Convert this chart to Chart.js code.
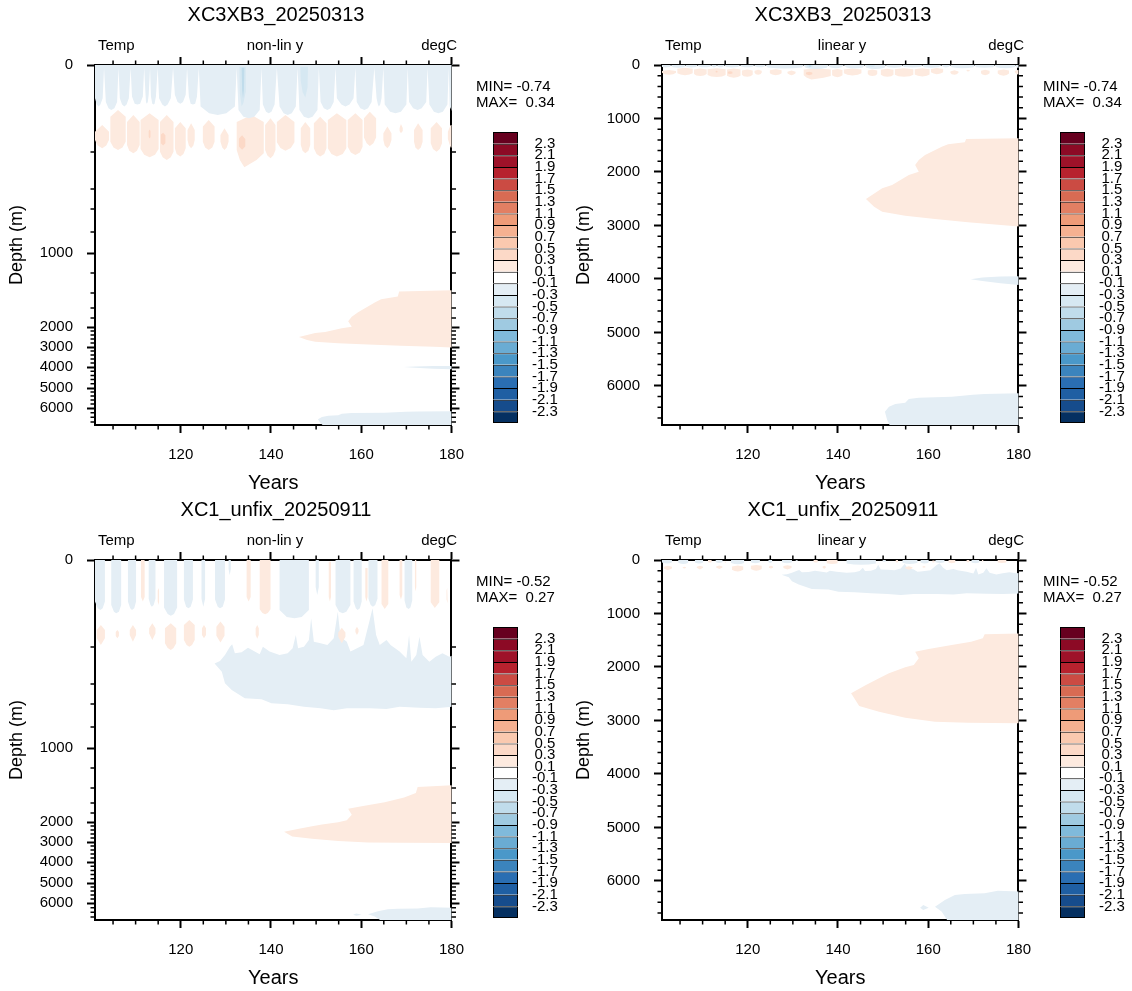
<!DOCTYPE html>
<html><head><meta charset="utf-8">
<script src="https://cdn.jsdelivr.net/npm/chart.js@4.4.1/dist/chart.umd.min.js"></script>
<style>
html,body{margin:0;padding:0;background:#fff;}
body{width:1132px;height:991px;position:relative;overflow:hidden;font-family:"Liberation Sans",Arial,sans-serif;}
canvas{position:absolute;}
.t{position:absolute;white-space:pre;line-height:1;color:#000;}
</style></head><body>
<script>
// ---------------- data ----------------
const YEAR_MIN = 101, YEAR_MAX = 180;
const yearTicks = [120, 140, 160, 180];
const yearMinor = [105, 110, 115, 125, 130, 135, 145, 150, 155, 165, 170, 175];
const DEPTH_MAX = 6731;
const depthTicks = [0, 1000, 2000, 3000, 4000, 5000, 6000];
const depthMinor = [200,400,600,800,1200,1400,1600,1800,2200,2400,2600,2800,3200,3400,3600,3800,4200,4400,4600,4800,5200,5400,5600,5800,6200,6400,6600];
// model level grid used by the non-linear (level index) depth axis
const levelDepth = [0, 50, 100, 150, 200, 300, 400, 600, 800, 1000, 1200, 1400, 1600, 1800, 2000, 3000, 4000, 5000, 6000, 6731];
const levelIndex = [0, 4.5, 6.3, 7.6, 8.7, 10.8, 12.4, 14.4, 16.7, 18.8, 20.8, 22.8, 24.3, 25.3, 26.2, 28.2, 30.2, 32.3, 34.3, 36];

const cbLabels = ['-2.3','-2.1','-1.9','-1.7','-1.5','-1.3','-1.1','-0.9','-0.7','-0.5','-0.3','-0.1','0.1','0.3','0.5','0.7','0.9','1.1','1.3','1.5','1.7','1.9','2.1','2.3'];
const cbColors = ['#053061','#164c8c','#1f5fa3','#2a6eb2','#3b84bd','#4a98c9','#6aacd3','#80badb','#9fcae1','#c0dceb','#d6e8f2','#e4eef5','#ffffff','#fdeadf','#fcd9c7','#fac9af','#f5b191','#ee9b78','#e27f63','#d86b53','#cb4b43','#b7222e','#9e1229','#8c0a25','#67001f'];

const titles = {exp1: 'XC3XB3_20250313', exp2: 'XC1_unfix_20250911'};
const minText = {exp1: 'MIN= -0.74', exp2: 'MIN= -0.52'};
const maxText = {exp1: 'MAX=  0.34', exp2: 'MAX=  0.27'};

// ---- experiment 1 contour regions: [year, depth(m)] ----
const exp1BlueTop = [[101,0],[101,37],[101.4,44],[101.8,46],[102.2,44],[102.7,37],[103.0,3],
[103.4,41],[104.0,48],[104.6,50],[105.3,48],[105.9,41],[106.2,3],
[106.5,37],[107.0,44],[107.5,46],[108.0,44],[108.5,37],[108.9,3],
[109.2,35],[109.8,43],[110.4,44],[111.0,43],[111.6,35],[111.9,3],
[112.2,33],[112.3,41],[112.5,43],[112.7,41],[112.9,33],[113.2,3],
[113.4,35],[113.7,43],[114.0,44],[114.2,43],[114.5,35],[114.9,3],
[115.2,37],[115.9,44],[116.5,46],[117.1,44],[117.8,37],[118.3,3],
[118.7,33],[119.3,41],[119.9,43],[120.5,41],[121.1,33],[121.4,3],
[121.8,35],[122.2,43],[122.7,44],[123.2,43],[123.6,35],[124.0,3],
[124.4,46],[126.3,59],[128.2,64],[130.1,59],[132.0,46],[132.4,3],
[132.8,50],[133.9,69],[135.1,73],[136.3,69],[137.5,50],[137.9,3],
[138.2,44],[138.9,55],[139.5,59],[140.1,55],[140.8,44],[141.3,3],
[141.9,46],[142.8,59],[143.7,64],[144.6,59],[145.5,46],[145.9,3],
[146.3,50],[147.3,69],[148.3,73],[149.2,69],[150.3,50],[150.6,3],
[151.0,41],[151.7,48],[152.5,50],[153.2,48],[153.9,41],[154.3,3],
[154.6,37],[155.6,44],[156.5,46],[157.4,44],[158.3,37],[158.7,3],
[159.0,41],[159.8,48],[160.7,50],[161.5,48],[162.3,41],[162.9,3],
[163.4,37],[163.7,44],[163.9,46],[164.2,44],[164.5,37],[164.9,3],
[165.2,44],[166.4,55],[167.6,59],[168.8,55],[170.0,44],[170.3,3],
[170.6,41],[171.5,48],[172.5,50],[173.4,48],[174.4,41],[174.7,3],
[175.1,44],[176.1,55],[177.1,59],[178.1,55],[179.1,44],[179.4,3],
[179.6,46],[180.5,64],[180.5,0]];
const exp1OrangeBlobs = [
[[101.0,114],[102.6,92],[104.1,114],[104.1,146],[103.5,171],[102.6,183],[101.6,171],[101.0,146]],
[[104.4,69],[106.1,50],[107.8,69],[107.8,153],[107.1,179],[106.1,191],[105.1,179],[104.4,153]],
[[108.1,83],[109.5,64],[110.9,83],[110.9,168],[110.3,194],[109.5,206],[108.6,194],[108.1,168]],
[[111.1,78],[113.1,59],[115.1,78],[115.1,186],[114.3,213],[113.1,225],[111.9,213],[111.1,186]],
[[115.4,83],[116.9,64],[118.4,83],[118.4,199],[117.8,225],[116.9,238],[116.0,225],[115.4,199]],
[[118.7,101],[119.9,83],[121.1,101],[121.1,183],[120.6,209],[119.9,222],[119.1,209],[118.7,183]],
[[121.5,108],[122.3,87],[123.1,108],[123.1,146],[122.8,171],[122.3,183],[121.8,171],[121.5,146]],
[[124.9,96],[126.2,78],[127.5,96],[127.5,153],[127.0,179],[126.2,191],[125.4,179],[124.9,153]],
[[128.8,127],[129.7,101],[130.6,127],[130.6,153],[130.2,179],[129.7,191],[129.2,179],[128.8,153]],
[[132.4,83],[135.7,64],[138.4,83],[138.4,206],[136.8,238],[135.3,257],[134.1,273],[133.1,238],[132.4,191]],
[[138.7,92],[139.9,73],[141.0,92],[141.0,191],[140.5,217],[139.9,230],[139.2,217],[138.7,191]],
[[141.3,83],[143.2,64],[145.2,83],[145.2,156],[144.4,182],[143.2,194],[142.1,182],[141.3,156]],
[[146.6,101],[147.6,83],[148.7,101],[148.7,168],[148.3,194],[147.6,206],[147.0,194],[146.6,168]],
[[149.5,87],[150.9,69],[152.3,87],[152.3,183],[151.8,209],[150.9,222],[150.1,209],[149.5,183]],
[[152.6,78],[154.6,59],[156.7,78],[156.7,183],[155.9,209],[154.6,222],[153.4,209],[152.6,183]],
[[157.0,78],[158.7,59],[160.3,78],[160.3,176],[159.7,202],[158.7,214],[157.7,202],[157.0,176]],
[[160.6,73],[161.9,55],[163.3,73],[163.3,137],[162.7,160],[161.9,173],[161.2,160],[160.6,137]],
[[164.9,120],[165.8,96],[166.7,120],[166.7,146],[166.3,171],[165.8,183],[165.2,171],[164.9,146]],
[[168.5,100],[168.8,89],[169.2,100],[169.2,112],[168.8,120],[168.5,112]],
[[171.7,108],[172.6,87],[173.6,108],[173.6,153],[173.2,179],[172.6,191],[172.0,179],[171.7,153]],
[[175.4,101],[176.7,83],[177.9,101],[177.9,160],[177.4,186],[176.7,199],[175.9,186],[175.4,160]],
[[179.2,114],[179.8,92],[180.5,92],[180.5,179],[179.8,179],[179.2,142]]
];
const exp1OrangeCores = [
[[115.6,125],[116.1,118],[116.6,128],[116.6,160],[116.1,170],[115.6,160]],
[[132.9,140],[133.6,128],[134.3,142],[134.3,175],[133.6,190],[132.9,175]],
[[112.9,112],[113.1,106],[113.3,112],[113.3,135],[113.1,140],[112.9,135]]
];
const exp1BlueCores = [
[[133.0,2],[134.4,2],[134.4,30],[133.9,42],[133.5,46],[133.1,32]],
[[146.5,2],[148.2,2],[148.1,25],[147.6,36],[147.0,30],[146.6,18]]
];
const exp1BlueCoresDeep = [
[[133.5,3],[134.1,3],[134.0,28],[133.8,37],[133.6,28]]
];
const exp1Tongue = [[180.5,1371],[168.4,1384],[168.1,1446],[164.4,1483],[163.0,1527],[159.3,1683],[157.9,1776],[157.1,1870],[157.9,1994],[155.7,2057],[152.0,2244],[149.8,2306],[146.2,2505],[148.0,2649],[149.8,2742],[154.9,2817],[161.5,2879],[168.8,2941],[176.1,2992],[180.5,3023]];
const exp1Blue4000 = [[169.4,4005],[172,3975],[176,3955],[180.5,3950],[180.5,4115],[176,4080],[172,4040]];
const exp1BlueBottom = [[180.5,6139],[172.5,6151],[169.9,6164],[165.2,6202],[157.9,6220],[155.7,6245],[154.9,6314],[152.7,6338],[151.3,6388],[150.4,6482],[150.9,6637],[151.6,6760],[180.5,6760]];

// ---- experiment 2 contour regions ----
const exp2BlueCols = [
[[101,0],[103.2,0],[103.2,46],[102.7,59],[102.2,64],[101.6,59],[101,46]],
[[104.6,0],[106.8,0],[106.8,50],[106.3,69],[105.7,73],[105.2,69],[104.6,50]],
[[108.3,0],[110.1,0],[110.1,46],[109.7,59],[109.2,64],[108.8,59],[108.3,46]],
[[112.9,0],[114.4,0],[114.4,43],[114.0,50],[113.6,55],[113.3,50],[112.9,43]],
[[116.3,0],[119.2,0],[119.2,57],[118.5,75],[117.8,80],[117.1,75],[116.3,57]],
[[120.7,0],[122.7,0],[122.7,44],[122.2,55],[121.7,59],[121.2,55],[120.7,44]],
[[124.6,0],[125.4,0],[125.4,43],[125.0,55],[124.6,43]],
[[127.6,0],[129.8,0],[129.8,44],[129.3,55],[128.7,59],[128.2,55],[127.6,44]],
[[130.6,0],[131.1,0],[131.1,10],[130.85,17],[130.6,10]],
[[141.9,0],[148.4,0],[148.4,64],[146.8,83],[145.2,87],[143.5,83],[141.9,64]],
[[149.9,0],[150.6,0],[150.6,30],[150.25,39],[149.9,30]],
[[154.3,0],[157.6,0],[157.6,50],[156.7,69],[155.9,73],[155.1,69],[154.3,50]],
[[158.3,0],[160.1,0],[160.1,46],[159.7,59],[159.2,64],[158.8,59],[158.3,46]],
[[161.6,0],[163.6,0],[163.6,43],[163.1,50],[162.6,55],[162.1,50],[161.6,43]],
[[169.6,0],[171.3,0],[171.3,45],[170.9,57],[170.5,61],[170.0,57],[169.6,45]]
];
const exp2OrangeStreaks = [
[[111.2,0],[112.0,0],[112.0,41],[111.6,46],[111.2,41]],
[[114.9,34],[115.05,31],[115.2,34],[115.2,46],[115.05,50],[114.9,46]],
[[134.6,0],[135.5,0],[135.5,41],[135.05,46],[134.6,41]],
[[137.5,0],[139.9,0],[139.9,62],[139.3,72],[138.7,76],[138.1,72],[137.5,62]],
[[152.8,2],[153.3,2],[153.3,41],[153.05,46],[152.8,41]],
[[160.9,9],[161.4,9],[161.4,41],[161.15,46],[160.9,41]],
[[164.5,0],[166.0,0],[166.0,49],[165.2,61],[164.5,49]],
[[168.5,0],[169.1,0],[169.1,39],[168.8,44],[168.5,39]],
[[171.9,0],[172.2,0],[172.2,30],[172.05,35],[171.9,30]],
[[175.4,0],[177.3,0],[177.3,47],[176.3,58],[175.4,47]],
[[178.9,34],[179.05,31],[179.2,34],[179.2,44],[179.05,48],[178.9,44]]
];
const exp2OrangeBlobs = [
[[101.4,127],[102.3,108],[103.2,127],[103.2,160],[102.3,191],[101.4,160]],
[[105.6,135],[105.95,127],[106.3,135],[106.3,150],[105.95,160],[105.6,150]],
[[108.7,127],[109.4,108],[110.1,127],[110.1,146],[109.4,176],[108.7,146]],
[[113.0,120],[113.7,101],[114.4,120],[114.4,140],[113.7,168],[113.0,140]],
[[116.5,120],[117.8,101],[119.0,120],[119.0,183],[118.4,205],[117.8,214],[117.1,205],[116.5,183]],
[[120.7,108],[121.9,92],[123.1,108],[123.1,168],[122.5,191],[121.9,199],[121.3,191],[120.7,168]],
[[124.7,120],[125.15,108],[125.6,120],[125.6,146],[125.15,160],[124.7,146]],
[[127.9,114],[128.8,96],[129.7,114],[129.7,149],[128.8,179],[127.9,149]],
[[136.6,120],[136.95,108],[137.3,120],[137.3,146],[136.95,163],[136.6,146]],
[[154.9,137],[155.7,118],[156.5,137],[156.5,153],[155.7,183],[154.9,153]],
[[158.7,125],[159.05,114],[159.4,125],[159.4,135],[159.05,146],[158.7,135]]
];
const exp2BlueBand = [[127.5,278],[128.7,267],[129.8,238],[130.9,199],[131.4,188],[132.0,230],[133.5,225],[134.9,203],[136.4,222],[137.5,235],[138.2,199],[139.7,222],[141.9,238],[143.7,230],[144.8,206],[145.5,146],[146.0,206],[147.3,199],[148.4,168],[148.9,87],[149.5,176],[151.0,183],[152.5,191],[153.9,160],[154.8,69],[155.4,153],[156.8,176],[157.6,222],[158.3,214],[160.5,191],[161.8,96],[162.5,59],[163.3,146],[164.1,191],[165.6,168],[166.5,191],[168.5,222],[170.0,254],[170.6,146],[171.1,270],[172.2,238],[172.9,153],[173.6,238],[175.1,270],[176.5,246],[178.0,230],[179.5,246],[180.5,238],
[180.5,623],[176.5,637],[172.9,632],[168.5,623],[165.6,644],[161.9,637],[156.8,637],[153.9,655],[151.0,637],[147.3,623],[143.7,603],[140.1,593],[137.9,553],[134.2,543],[131.3,460],[129.8,396],[129.1,323]];
const exp2Tongue = [[180.5,1371],[172.5,1390],[172.1,1465],[169.5,1527],[165.2,1589],[160.1,1664],[157.1,1714],[157.9,1839],[156.8,1963],[154.9,2007],[151.3,2119],[149.1,2213],[146.2,2337],[142.9,2493],[144.7,2730],[149.1,2836],[154.9,2948],[161.5,3023],[168.8,3042],[180.5,3054]];
const exp2BlueBottom = [[161.5,6482],[163.7,6357],[165.9,6264],[168.1,6245],[172.5,6232],[175.4,6183],[180.5,6201],[180.5,6760],[164.4,6760],[163.0,6576]];
const exp2BlueSpeck = [[158.2,6500],[158.9,6451],[160.1,6500],[158.9,6544]];

// shape groups: [polygons, colour class index, draw order]
const SHAPES = {
  exp1: [
    [[exp1BlueTop], 11, 2], [exp1OrangeBlobs, 13, 2],
    [exp1OrangeCores, 14, 1], [exp1BlueCores, 10, 1], [exp1BlueCoresDeep, 9, 0],
    [[exp1Tongue], 13, 2], [[exp1Blue4000], 11, 2], [[exp1BlueBottom], 11, 2]
  ],
  exp2: [
    [exp2BlueCols, 11, 2], [exp2OrangeStreaks, 13, 2], [exp2OrangeBlobs, 13, 2],
    [[exp2BlueBand], 11, 2], [[exp2Tongue], 13, 2], [[exp2BlueBottom], 11, 2], [[exp2BlueSpeck], 11, 2]
  ]
};

// ---------------- layout ----------------
const panels = [
  {exp:'exp1', nonlin:true,  left:0,   top:0},
  {exp:'exp1', nonlin:false, left:567, top:0},
  {exp:'exp2', nonlin:true,  left:0,   top:495},
  {exp:'exp2', nonlin:false, left:567, top:495}
];

Chart.defaults.font.family = "'Liberation Sans', Arial, Helvetica, sans-serif";
Chart.defaults.color = '#000';

function interp(v, xs, ys) {
  let i = 1;
  while (i < xs.length - 1 && v > xs[i]) i++;
  const t = (v - xs[i-1]) / (xs[i] - xs[i-1]);
  return ys[i-1] + t * (ys[i] - ys[i-1]);
}
const depthToLevel = d => interp(d, levelDepth, levelIndex);
const levelToDepth = l => interp(l, levelIndex, levelDepth);

class LevelScale extends Chart.LinearScale {
  getPixelForValue(v) { return super.getPixelForValue(depthToLevel(v)); }
  getValueForPixel(p) { return levelToDepth(super.getValueForPixel(p)); }
}
LevelScale.id = 'level';
LevelScale.defaults = {};
Chart.register(LevelScale);

const minorTickPlugin = {
  id: 'minorTicks',
  afterDraw(chart, args, opts) {
    if (!opts || !opts.x) return;
    const ctx = chart.ctx, a = chart.chartArea, L = 4.5;
    const xs = chart.scales.x, ys = chart.scales.y;
    ctx.save();
    ctx.strokeStyle = '#000'; ctx.lineWidth = 1.5;
    ctx.beginPath();
    opts.x.forEach(v => { const p = xs.getPixelForValue(v);
      ctx.moveTo(p, a.bottom); ctx.lineTo(p, a.bottom + L);
      ctx.moveTo(p, a.top); ctx.lineTo(p, a.top - L); });
    opts.y.forEach(v => { const p = ys.getPixelForValue(v);
      ctx.moveTo(a.left, p); ctx.lineTo(a.left - L, p);
      ctx.moveTo(a.right, p); ctx.lineTo(a.right + L, p); });
    ctx.stroke();
    ctx.restore();
  }
};

function axisGrid() { return {display:true, drawOnChartArea:false, drawTicks:true, tickLength:8, tickWidth:2, tickColor:'#000'}; }
function axisBorder() { return {display:true, width:2, color:'#000'}; }

function addText(txt, x, baseline, size, align) {
  const d = document.createElement('div');
  d.className = 't';
  d.textContent = txt;
  d.style.fontSize = size + 'px';
  d.style.top = (baseline - 0.8465 * size) + 'px';
  if (align === 'left') d.style.left = x + 'px';
  else if (align === 'right') d.style.right = (1132 - x) + 'px';
  else { d.style.left = (x - 300) + 'px'; d.style.width = '600px'; d.style.textAlign = 'center'; }
  document.body.appendChild(d);
}

function mainChart(p) {
  const cv = document.createElement('canvas');
  cv.width = 477; cv.height = 495;
  cv.style.left = p.left + 'px'; cv.style.top = p.top + 'px';
  document.body.appendChild(cv);
  const datasets = [];
  SHAPES[p.exp].forEach(([polys, cls, order]) => {
    polys.forEach(poly => datasets.push({
      data: poly.map(([x, y]) => ({x, y})),
      backgroundColor: cbColors[cls], borderColor: 'rgba(0,0,0,0)', borderWidth: 0,
      fill: 'shape', pointRadius: 0, pointHoverRadius: 0, tension: 0, order: order,
      xAxisID: 'x', yAxisID: 'y'
    }));
  });
  const yRange = p.nonlin ? {type:'level', min: levelIndex[0], max: levelIndex[levelIndex.length-1]}
                          : {type:'linear', min: 0, max: DEPTH_MAX};
  const setYearTicks = s => { s.ticks = yearTicks.map(v => ({value: v})); };
  const setDepthTicks = s => { s.ticks = depthTicks.map(v => ({value: v})); };
  new Chart(cv, {
    type: 'line',
    data: {datasets},
    options: {
      responsive: false, animation: false, events: [],
      layout: {padding: 0},
      plugins: {legend: {display: false}, tooltip: {enabled: false}, title: {display: false},
        minorTicks: {x: yearMinor, y: depthMinor}},
      scales: {
        x: {type:'linear', position:'bottom', min: YEAR_MIN, max: YEAR_MAX, bounds:'data',
            afterBuildTicks: setYearTicks,
            ticks: {font:{size:15}, padding:13, maxRotation:0, autoSkip:false, callback: v => String(v)},
            grid: axisGrid(), border: axisBorder(),
            title: {display:true, text:'Years', font:{size:20}, padding:{top:0, bottom:0}},
            afterFit: s => { s.height = 70; }},
        xTop: {type:'linear', position:'top', min: YEAR_MIN, max: YEAR_MAX, bounds:'data',
            afterBuildTicks: setYearTicks, ticks: {display:false},
            grid: axisGrid(), border: axisBorder(),
            afterFit: s => { s.height = 65; }},
        y: Object.assign({}, yRange, {position:'left', reverse:true, bounds:'data',
            afterBuildTicks: setDepthTicks,
            ticks: {font:{size:15}, padding:14, autoSkip:false, callback: v => String(v)},
            grid: axisGrid(), border: axisBorder(),
            title: {display:true, text:'Depth (m)', font:{size:18}, padding:{top:6, bottom:0}},
            afterFit: s => { s.width = 95; }}),
        yRight: Object.assign({}, yRange, {position:'right', reverse:true, bounds:'data',
            afterBuildTicks: setDepthTicks, ticks: {display:false},
            grid: axisGrid(), border: axisBorder(),
            afterFit: s => { s.width = 20; }})
      }
    },
    plugins: [minorTickPlugin]
  });
}

function colorBar(p) {
  const cv = document.createElement('canvas');
  cv.width = 70; cv.height = 323;
  cv.style.left = (p.left + 493) + 'px'; cv.style.top = (p.top + 116) + 'px';
  document.body.appendChild(cv);
  new Chart(cv, {
    type: 'bar',
    data: {labels: [''], datasets: cbColors.map((c, i) => ({
      data: [1], backgroundColor: c, borderColor: '#000',
      borderWidth: i === 0 ? {top:1, bottom:1, left:1, right:1} : {top:1, bottom:0, left:1, right:1},
      borderSkipped: false, barPercentage: 1, categoryPercentage: 1, stack: 's', inflateAmount: 0
    }))},
    options: {
      responsive: false, animation: false, events: [],
      layout: {padding: {top:16, bottom:16, left:0, right:0}},
      plugins: {legend: {display:false}, tooltip: {enabled:false}},
      scales: {
        x: {display:false, stacked:true},
        y: {stacked:true, position:'right', min:0, max:cbColors.length, bounds:'data',
            afterBuildTicks: s => { s.ticks = cbLabels.map((l, i) => ({value: i + 1})); },
            ticks: {font:{size:15}, padding:6, crossAlign:'center', autoSkip:false,
                    callback: (v, i) => cbLabels[i]},
            grid: {display:false}, border: {display:false},
            afterFit: s => { s.width = 45; }}
      }
    }
  });
}

panels.forEach(p => {
  mainChart(p);
  colorBar(p);
  addText(titles[p.exp], p.left + 276, p.top + 20.5, 20, 'center');
  addText('Temp', p.left + 98, p.top + 49.5, 15, 'left');
  addText(p.nonlin ? 'non-lin y' : 'linear y', p.left + 275, p.top + 49.5, 15, 'center');
  addText('degC', p.left + 457, p.top + 49.5, 15, 'right');
  addText(minText[p.exp], p.left + 476, p.top + 90.5, 15, 'left');
  addText(maxText[p.exp], p.left + 476, p.top + 106.5, 15, 'left');
});
</script>
</body></html>
